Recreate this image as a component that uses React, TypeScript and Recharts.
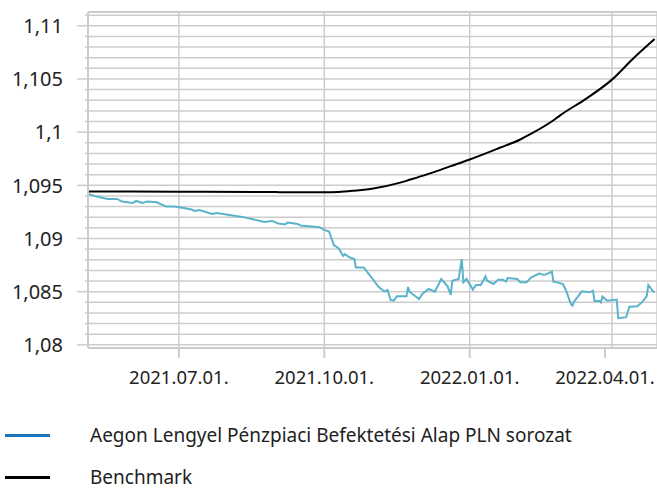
import React from "react";
import {
  LineChart,
  Line,
  XAxis,
  YAxis,
  CartesianGrid,
  ReferenceLine,
} from "recharts";

// Aegon Lengyel Pénzpiaci Befektetési Alap PLN sorozat (daily-ish readings)
const fundDates = [
  "2021-05-05", "2021-05-10", "2021-05-17", "2021-05-23", "2021-05-26", "2021-06-02",
  "2021-06-04", "2021-06-08", "2021-06-11", "2021-06-17", "2021-06-23", "2021-06-28",
  "2021-07-05", "2021-07-09", "2021-07-11", "2021-07-14", "2021-07-22", "2021-07-25",
  "2021-07-30", "2021-08-10", "2021-08-17", "2021-08-24", "2021-08-29", "2021-09-02",
  "2021-09-06", "2021-09-08", "2021-09-14", "2021-09-16", "2021-09-28", "2021-10-01",
  "2021-10-04", "2021-10-05", "2021-10-07", "2021-10-10", "2021-10-13", "2021-10-14",
  "2021-10-17", "2021-10-20", "2021-10-21", "2021-10-26", "2021-10-27", "2021-11-01",
  "2021-11-04", "2021-11-08", "2021-11-10", "2021-11-12", "2021-11-14", "2021-11-16",
  "2021-11-22", "2021-11-23", "2021-11-24", "2021-11-30", "2021-12-02", "2021-12-06",
  "2021-12-10", "2021-12-14", "2021-12-18", "2021-12-20", "2021-12-21", "2021-12-25",
  "2021-12-27", "2021-12-28", "2021-12-30", "2022-01-03", "2022-01-05", "2022-01-08",
  "2022-01-11", "2022-01-12", "2022-01-16", "2022-01-19", "2022-01-22", "2022-01-24",
  "2022-01-25", "2022-01-31", "2022-02-02", "2022-02-06", "2022-02-09", "2022-02-14",
  "2022-02-17", "2022-02-22", "2022-02-23", "2022-02-26", "2022-03-01", "2022-03-03",
  "2022-03-06", "2022-03-07", "2022-03-08", "2022-03-13", "2022-03-18", "2022-03-20",
  "2022-03-21", "2022-03-24", "2022-03-25", "2022-03-26", "2022-03-29", "2022-04-04",
  "2022-04-05", "2022-04-10", "2022-04-12", "2022-04-17", "2022-04-20", "2022-04-23",
  "2022-04-24", "2022-04-27", "2022-04-28",
];
const fundValues = [
  1.09416, 1.09394, 1.09372, 1.09372, 1.09347, 1.09334,
  1.09353, 1.09334, 1.09347, 1.09341, 1.093, 1.093,
  1.09284, 1.09272, 1.09259, 1.09268, 1.09231, 1.0924,
  1.09228, 1.09203, 1.0918, 1.09156, 1.09165, 1.09141,
  1.09132, 1.0915, 1.09137, 1.09122, 1.09106, 1.09081,
  1.09066, 1.09025, 1.08938, 1.08909, 1.08837, 1.08853,
  1.08822, 1.08806, 1.08728, 1.08728, 1.08706, 1.08612,
  1.0855, 1.085, 1.08516, 1.08422, 1.08415, 1.08457,
  1.08457, 1.08544, 1.08497, 1.08431, 1.08478, 1.08525,
  1.085, 1.08619, 1.0855, 1.08469, 1.08603, 1.08619,
  1.08806, 1.08588, 1.08619, 1.08519, 1.08563, 1.08563,
  1.08644, 1.08603, 1.08572, 1.08612, 1.08612, 1.08594,
  1.08628, 1.08619, 1.08588, 1.08588, 1.08635, 1.0867,
  1.08656, 1.08687, 1.08594, 1.08585, 1.08572, 1.08509,
  1.08384, 1.08368, 1.08406, 1.08503, 1.08494, 1.08509,
  1.0841, 1.08415, 1.084, 1.08453, 1.08415, 1.08425,
  1.0825, 1.0826, 1.08359, 1.08363, 1.084, 1.08457,
  1.08563, 1.08503, 1.08494,
];

// Benchmark
const benchDates = [
  "2021-05-05", "2021-07-01", "2021-09-01", "2021-10-01", "2021-10-10", "2021-10-20",
  "2021-11-01", "2021-11-18", "2021-11-24", "2021-12-05", "2021-12-13", "2021-12-20",
  "2022-01-01", "2022-01-20", "2022-02-02", "2022-02-08", "2022-02-23", "2022-02-27",
  "2022-03-16", "2022-04-01", "2022-04-14", "2022-04-28",
];
const benchValues = [
  1.09442, 1.0944, 1.09436, 1.09435, 1.09438, 1.0945,
  1.0947, 1.09525, 1.09552, 1.09603, 1.09643, 1.0968,
  1.09743, 1.09853, 1.09931, 1.09978, 1.10112, 1.10156,
  1.10318, 1.10494, 1.10686, 1.10875,
];

const xTickDates = ["2021-07-01", "2021-10-01", "2022-01-01", "2022-04-01"];
const xTickLabels = ["2021.07.01.", "2021.10.01.", "2022.01.01.", "2022.04.01."];

const yTicks = [
  1.08, 1.081, 1.082, 1.083, 1.084, 1.085, 1.086, 1.087, 1.088, 1.089,
  1.09, 1.091, 1.092, 1.093, 1.094, 1.095, 1.096, 1.097, 1.098, 1.099,
  1.1, 1.101, 1.102, 1.103, 1.104, 1.105, 1.106, 1.107, 1.108, 1.109,
  1.11, 1.111,
];
const yLabeled = [1.08, 1.085, 1.09, 1.095, 1.1, 1.105, 1.11];

const FONT = "'Noto Sans', sans-serif";
const GRID = "#cccccc";
const X_MIN = Date.parse("2021-05-04T12:00:00Z");
const X_MAX = Date.parse("2022-04-29T12:00:00Z");
const Y_MIN = 1.0797;
const Y_MAX = 1.1113;

const ts = (d: string) => Date.parse(d + "T00:00:00Z");
const fundData = fundDates.map((d, i) => ({ t: ts(d), v: fundValues[i] }));
const benchData = benchDates.map((d, i) => ({ t: ts(d), v: benchValues[i] }));
const xTicks = xTickDates.map(ts);

// eslint-disable-next-line @typescript-eslint/no-explicit-any
function YTick({ x, y, payload }: any) {
  const v = payload.value as number;
  const major = yLabeled.some((m) => Math.abs(m - v) < 1e-7);
  return (
    <g>
      <line x1={x - (major ? 11 : 3)} x2={x} y1={y} y2={y} stroke={GRID} strokeWidth={1.5} />
      {major && (
        <text x={x - 25} y={y} dy="0.36em" textAnchor="end" fontSize={20} fill="#222" fontFamily={FONT}>
          {String(+v.toFixed(3)).replace(".", ",")}
        </text>
      )}
    </g>
  );
}

// eslint-disable-next-line @typescript-eslint/no-explicit-any
function XTick({ x, y, payload }: any) {
  const idx = xTicks.indexOf(payload.value);
  return (
    <g>
      <line x1={x} x2={x} y1={y} y2={y + 10} stroke={GRID} strokeWidth={2} />
      <text x={x} y={y + 36} textAnchor="middle" fontSize={18.5} fill="#222" fontFamily={FONT}>
        {xTickLabels[idx]}
      </text>
    </g>
  );
}

export default function App() {
  return (
    <div style={{ position: "absolute", left: 0, top: 0, width: 657, height: 489, background: "#fff", overflow: "hidden" }}>
      <LineChart width={657} height={400} margin={{ top: 12, right: 0, bottom: 0, left: 0 }}>
        <CartesianGrid stroke={GRID} strokeWidth={1.5} />
        <XAxis
          type="number"
          dataKey="t"
          domain={[X_MIN, X_MAX]}
          ticks={xTicks}
          tick={<XTick />}
          tickSize={0}
          tickMargin={0}
          tickLine={false}
          axisLine={{ stroke: GRID, strokeWidth: 2 }}
          height={52}
          allowDataOverflow
        />
        <YAxis
          type="number"
          domain={[Y_MIN, Y_MAX]}
          ticks={yTicks}
          tick={<YTick />}
          tickSize={0}
          tickMargin={0}
          tickLine={false}
          axisLine={{ stroke: GRID, strokeWidth: 2 }}
          width={88}
          interval={0}
          allowDataOverflow
        />
        <ReferenceLine y={Y_MAX} stroke={GRID} strokeWidth={2} />
        <Line
          data={fundData}
          dataKey="v"
          type="linear"
          stroke="#5ab3cb"
          strokeWidth={2}
          dot={false}
          isAnimationActive={false}
        />
        <Line
          data={benchData}
          dataKey="v"
          type="monotone"
          stroke="#000"
          strokeWidth={2}
          dot={false}
          isAnimationActive={false}
        />
      </LineChart>
      <div style={{ position: "absolute", left: 0, top: 419, fontFamily: FONT, fontSize: 19, lineHeight: 1, color: "#222", whiteSpace: "nowrap" }}>
        <div style={{ display: "flex", alignItems: "center", height: 32 }}>
          <span style={{ display: "inline-block", width: 45, height: 3, background: "#1a75bc", marginLeft: 5 }} />
          <span style={{ marginLeft: 40 }}>Aegon Lengyel Pénzpiaci Befektetési Alap PLN sorozat</span>
        </div>
        <div style={{ display: "flex", alignItems: "center", height: 32, marginTop: 10 }}>
          <span style={{ display: "inline-block", width: 45, height: 3, background: "#000", marginLeft: 5 }} />
          <span style={{ marginLeft: 40 }}>Benchmark</span>
        </div>
      </div>
    </div>
  );
}
